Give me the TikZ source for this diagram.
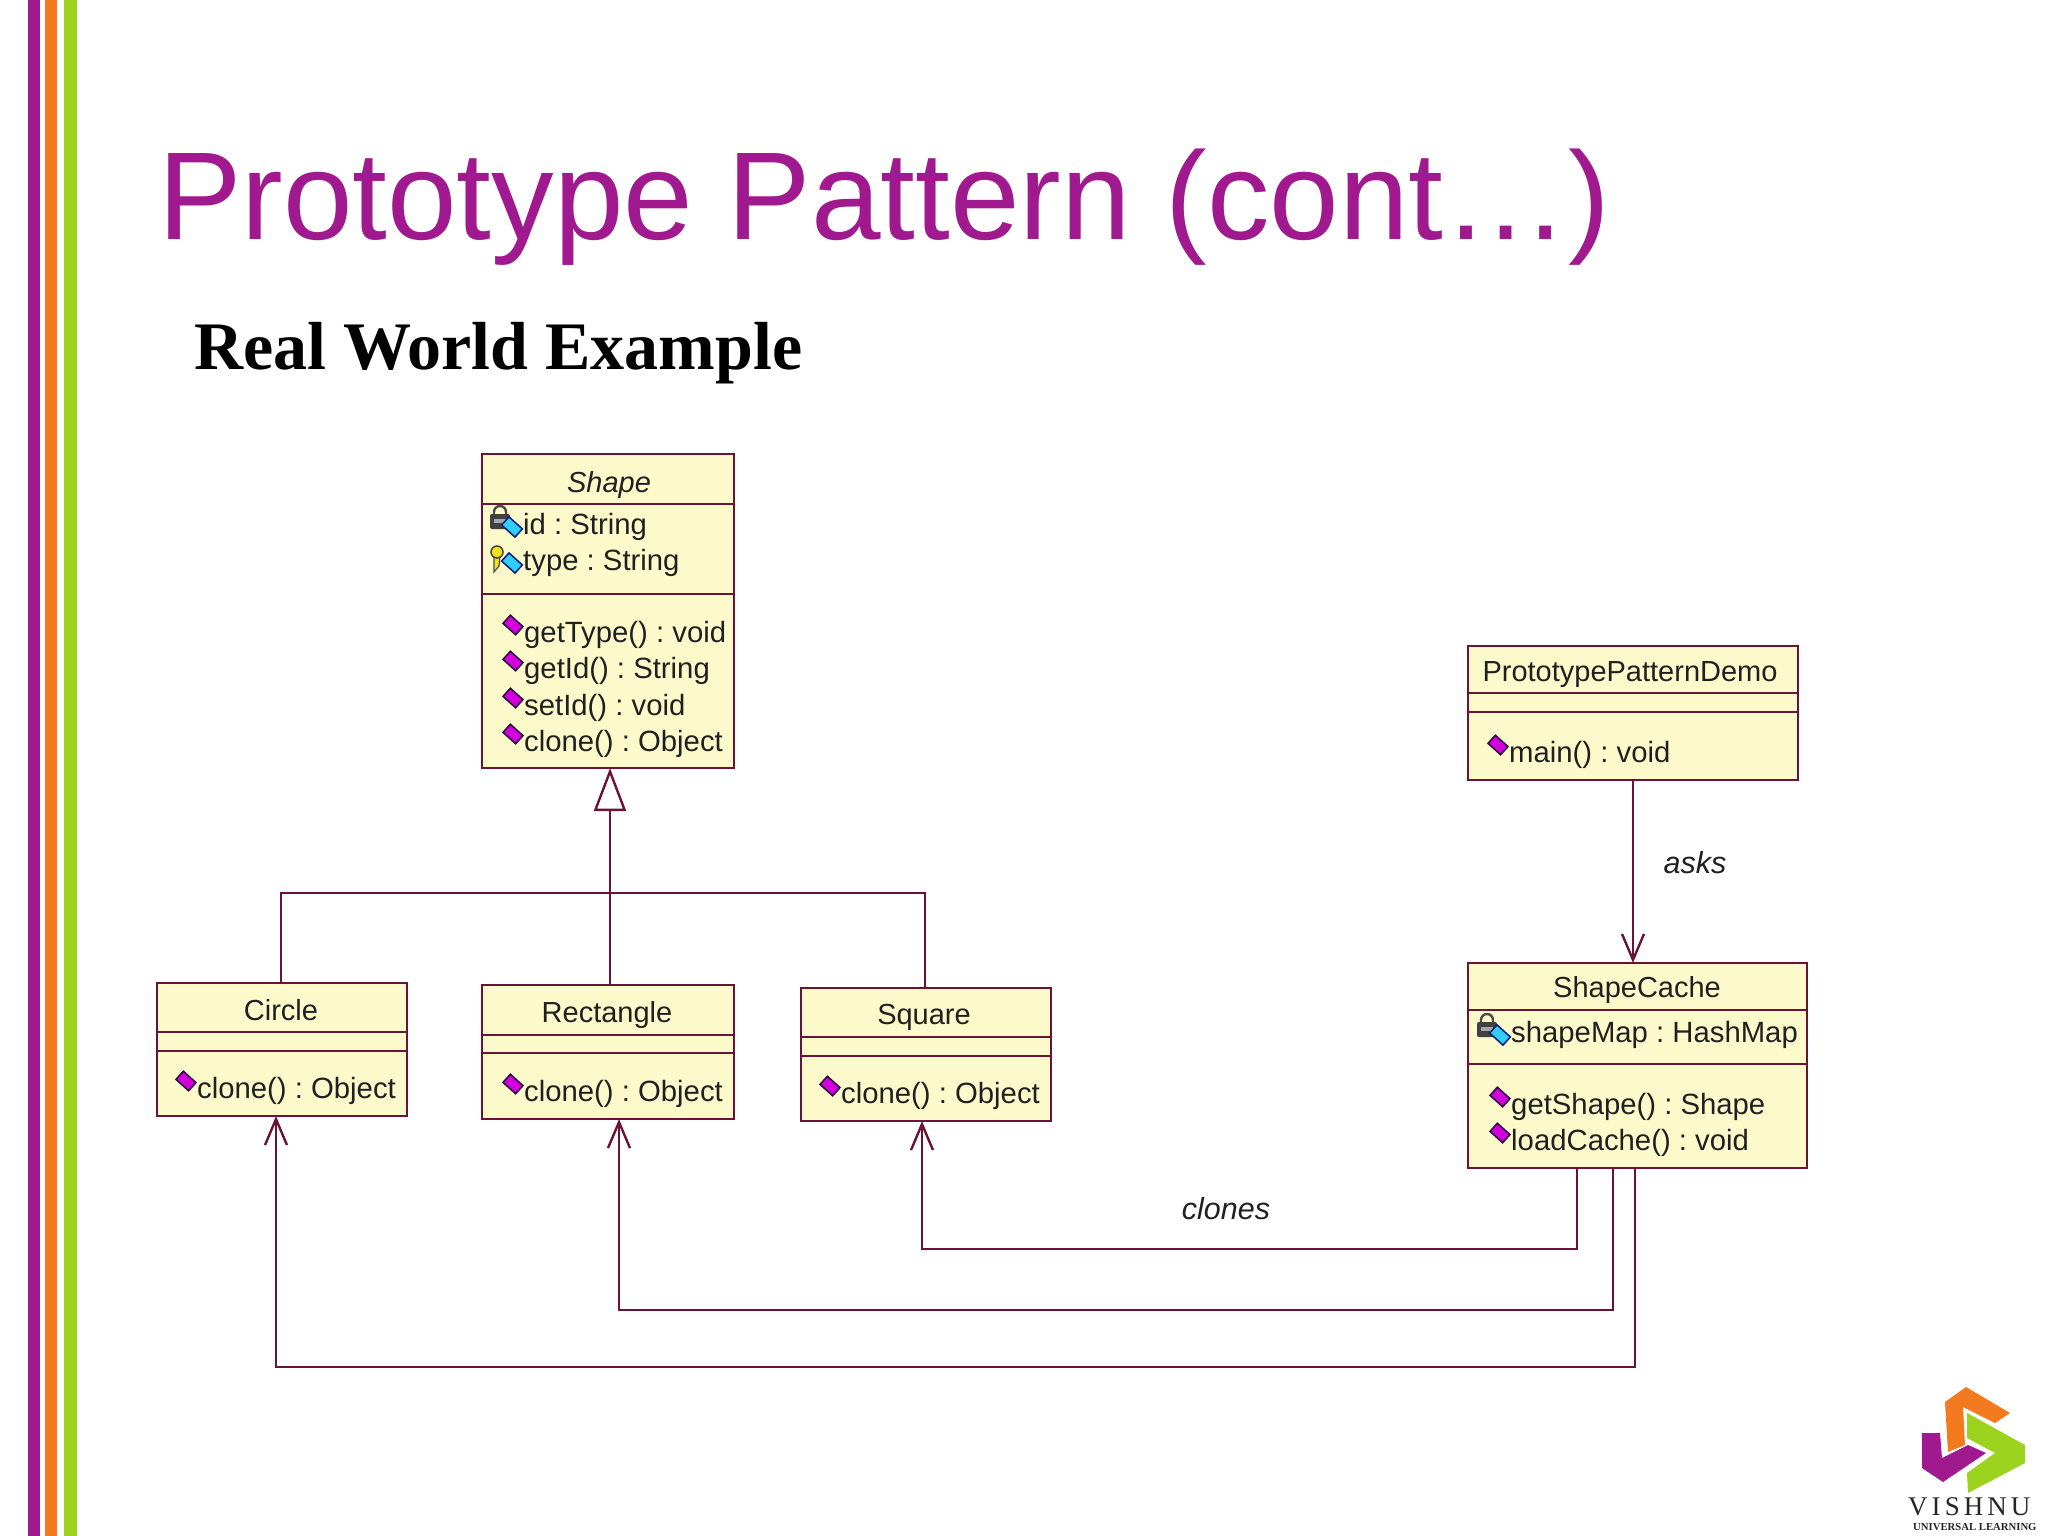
\documentclass[tikz,border=0pt]{standalone}
\usepackage{fontspec}
\setmainfont{Liberation Sans}
\newfontfamily\serifface{Liberation Serif}
\newfontfamily\logoface[LetterSpace=15]{Liberation Serif}
\usetikzlibrary{arrows.meta,calc}

\definecolor{slidepurple}{HTML}{A0198F}
\definecolor{slideorange}{HTML}{F47A1F}
\definecolor{slidegreen}{HTML}{9BD31E}
\definecolor{umlline}{HTML}{6A1238}
\definecolor{umlfill}{HTML}{FCFACB}
\definecolor{umltext}{HTML}{202020}
\definecolor{keyyellow}{HTML}{F2E21C}

\tikzset{
  classbox/.style={draw=umlline,fill=umlfill,line width=2.6pt,anchor=north west,inner sep=0pt,outer sep=0pt},
  divider/.style={draw=umlline,line width=2.2pt},
  classtitle/.style={anchor=base,inner sep=0pt,text=umltext,font=\fontsize{29}{29}\selectfont},
  member/.style={anchor=base west,inner sep=0pt,text=umltext,font=\fontsize{29.3}{29.3}\selectfont},
  linklabel/.style={anchor=base,inner sep=0pt,text=umltext,font=\fontsize{30.5}{30.5}\selectfont\itshape},
  opicon/.style={draw={rgb,255:red,40;green,10;blue,60},fill={rgb,255:red,210;green,0;blue,220},line width=1.5pt,
    rotate=-42,minimum width=17pt,minimum height=11pt,inner sep=0pt},
  attricon/.style={draw={rgb,255:red,10;green,30;blue,120},fill={rgb,255:red,50;green,205;blue,250},line width=1.5pt,
    rotate=-42,minimum width=18pt,minimum height=11pt,inner sep=0pt},
  link/.style={draw=umlline,line width=2.4pt,line join=miter},
  uses/.style={link,-{Straight Barb[length=26pt,width=22pt]}},
  extends/.style={link,-{Triangle[open,fill=white,length=43pt,width=32pt]}},
}

% one row of a class: name, position, text
\newcommand{\opline}[3]{
  \node[member] (#1) at (#2) {#3};
  \node[opicon] (#1_i) at ($(#1.base west)+(-11,-17)$) {};
}
\newcommand{\attrline}[3]{
  \node[member] (#1) at (#2) {#3};
  \node[attricon] (#1_i) at ($(#1.base west)+(-11,-7)$) {};
}
% lock with its body centred at the given point
\newcommand{\lockicon}[1]{
  \draw[line width=2.4pt,draw=black!70] ($(#1)+(-6,-4)$) -- ($(#1)+(-6,-8)$) arc[start angle=180,end angle=360,radius=6] -- ($(#1)+(6,-4)$);
  \fill[rounded corners=2pt,fill=black!75] ($(#1)+(-10,-6)$) rectangle ($(#1)+(10,9)$);
  \fill[fill=black!35] ($(#1)+(-6,-1)$) rectangle ($(#1)+(6,3)$);
}

\begin{document}
\frenchspacing
\begin{tikzpicture}[x=1pt,y=-1pt]
  \useasboundingbox (0,0) rectangle (2048,1536);

  % stripes
  \fill[slidepurple] (28,0) rectangle (40,1536);
  \fill[slideorange] (45,0) rectangle (57,1536);
  \fill[slidegreen] (64,0) rectangle (77,1536);

  \node[anchor=base west,inner sep=0pt,text=slidepurple,font=\fontsize{125}{125}\selectfont] (title) at (158,239) {Prototype Pattern (cont…)};
  \node[anchor=base west,inner sep=0pt,font=\fontsize{68}{68}\selectfont\serifface\bfseries] (subtitle) at (194,369) {Real World Example};

  % Shape
  \node[classbox,minimum width=252pt,minimum height=314pt] (shape) at (482,454) {};
  \draw[divider] (shape.west |- 0,504) -- (shape.east |- 0,504);
  \draw[divider] (shape.west |- 0,594) -- (shape.east |- 0,594);
  \node[classtitle,font=\fontsize{29}{29}\selectfont\itshape] (shape_t) at (609,492) {Shape};
  \lockicon{500,520}
  \attrline{shape_id}{523,534}{id : String}
  \fill[keyyellow,draw=black!70,line width=1.2pt] (494,556) -- (494,572) -- (499,566) -- (500,556) -- cycle;
  \draw[draw=black!70,fill=keyyellow,line width=1.6pt] (497,552) circle[radius=6];
  \attrline{shape_type}{523,570}{type : String}
  \opline{shape_a}{524,642}{getType() : void}
  \opline{shape_b}{524,678}{getId() : String}
  \opline{shape_c}{524,715}{setId() : void}
  \opline{shape_d}{524,751}{clone() : Object}

  % Children
  \node[classbox,minimum width=250pt,minimum height=133pt] (circle) at (157,983) {};
  \draw[divider] (circle.west |- 0,1032) -- (circle.east |- 0,1032);
  \draw[divider] (circle.west |- 0,1051) -- (circle.east |- 0,1051);
  \node[classtitle] (circle_t) at (281,1020) {Circle};
  \opline{circle_a}{197,1098}{clone() : Object}

  \node[classbox,minimum width=252pt,minimum height=134pt] (rect) at (482,985) {};
  \draw[divider] (rect.west |- 0,1035) -- (rect.east |- 0,1035);
  \draw[divider] (rect.west |- 0,1053) -- (rect.east |- 0,1053);
  \node[classtitle] (rect_t) at (607,1022) {Rectangle};
  \opline{rect_a}{524,1101}{clone() : Object}

  \node[classbox,minimum width=250pt,minimum height=133pt] (square) at (801,988) {};
  \draw[divider] (square.west |- 0,1037) -- (square.east |- 0,1037);
  \draw[divider] (square.west |- 0,1056) -- (square.east |- 0,1056);
  \node[classtitle] (square_t) at (924,1024) {Square};
  \opline{square_a}{841,1103}{clone() : Object}

  % Demo and cache
  \node[classbox,minimum width=330pt,minimum height=134pt] (demo) at (1468,646) {};
  \draw[divider] (demo.west |- 0,693) -- (demo.east |- 0,693);
  \draw[divider] (demo.west |- 0,712) -- (demo.east |- 0,712);
  \node[classtitle] (demo_t) at (1630,681) {PrototypePatternDemo};
  \opline{demo_a}{1509,762}{main() : void}

  \node[classbox,minimum width=339pt,minimum height=205pt] (cache) at (1468,963) {};
  \draw[divider] (cache.west |- 0,1010) -- (cache.east |- 0,1010);
  \draw[divider] (cache.west |- 0,1064) -- (cache.east |- 0,1064);
  \node[classtitle] (cache_t) at (1637,997) {ShapeCache};
  \lockicon{1487,1028}
  \attrline{cache_map}{1511,1042}{shapeMap : HashMap}
  \opline{cache_a}{1511,1114}{getShape() : Shape}
  \opline{cache_b}{1511,1150}{loadCache() : void}

  % inheritance
  \draw[link] (circle.north -| 281,0) -- (281,893) -- (925,893) -- (square.north -| 925,0);
  \draw[extends] (rect.north -| 610,0) -- (shape.south -| 610,0);

  % associations
  \draw[uses] (demo.south -| 1633,0) -- (cache.north -| 1633,0);
  \draw[uses] (cache.south -| 1577,0) -- (1577,1249) -- (922,1249) -- (square.south -| 922,0);
  \draw[uses] (cache.south -| 1613,0) -- (1613,1310) -- (619,1310) -- (rect.south -| 619,0);
  \draw[uses] (cache.south -| 1635,0) -- (1635,1367) -- (276,1367) -- (circle.south -| 276,0);
  \node[linklabel] (asks) at (1695,873) {asks};
  \node[linklabel] (clones) at (1226,1219) {clones};

  % logo
  \fill[slideorange] (1945,1402) -- (1966,1387) -- (2010,1413) -- (1995,1423) -- (1963,1407) -- (1965,1445) -- (1948,1452) -- cycle;
  \fill[slidegreen] (1967,1413) -- (2025,1445) -- (2025,1463) -- (1968,1493) -- (1967,1473) -- (1995,1453) -- (1967,1438) -- cycle;
  \fill[slidepurple] (1922,1433) -- (1940,1433) -- (1942,1458) -- (1968,1445) -- (1986,1453) -- (1943,1482) -- (1922,1468) -- cycle;
  \node[anchor=base west,inner sep=0pt,text=black!85,font=\fontsize{27}{27}\selectfont\logoface] (logo_a) at (1908,1515) {VISHNU};
  \node[anchor=base west,inner sep=0pt,text=black!85,font=\fontsize{10.7}{10.7}\selectfont\serifface\bfseries] (logo_b) at (1913,1530) {UNIVERSAL LEARNING};
\end{tikzpicture}
\end{document}
